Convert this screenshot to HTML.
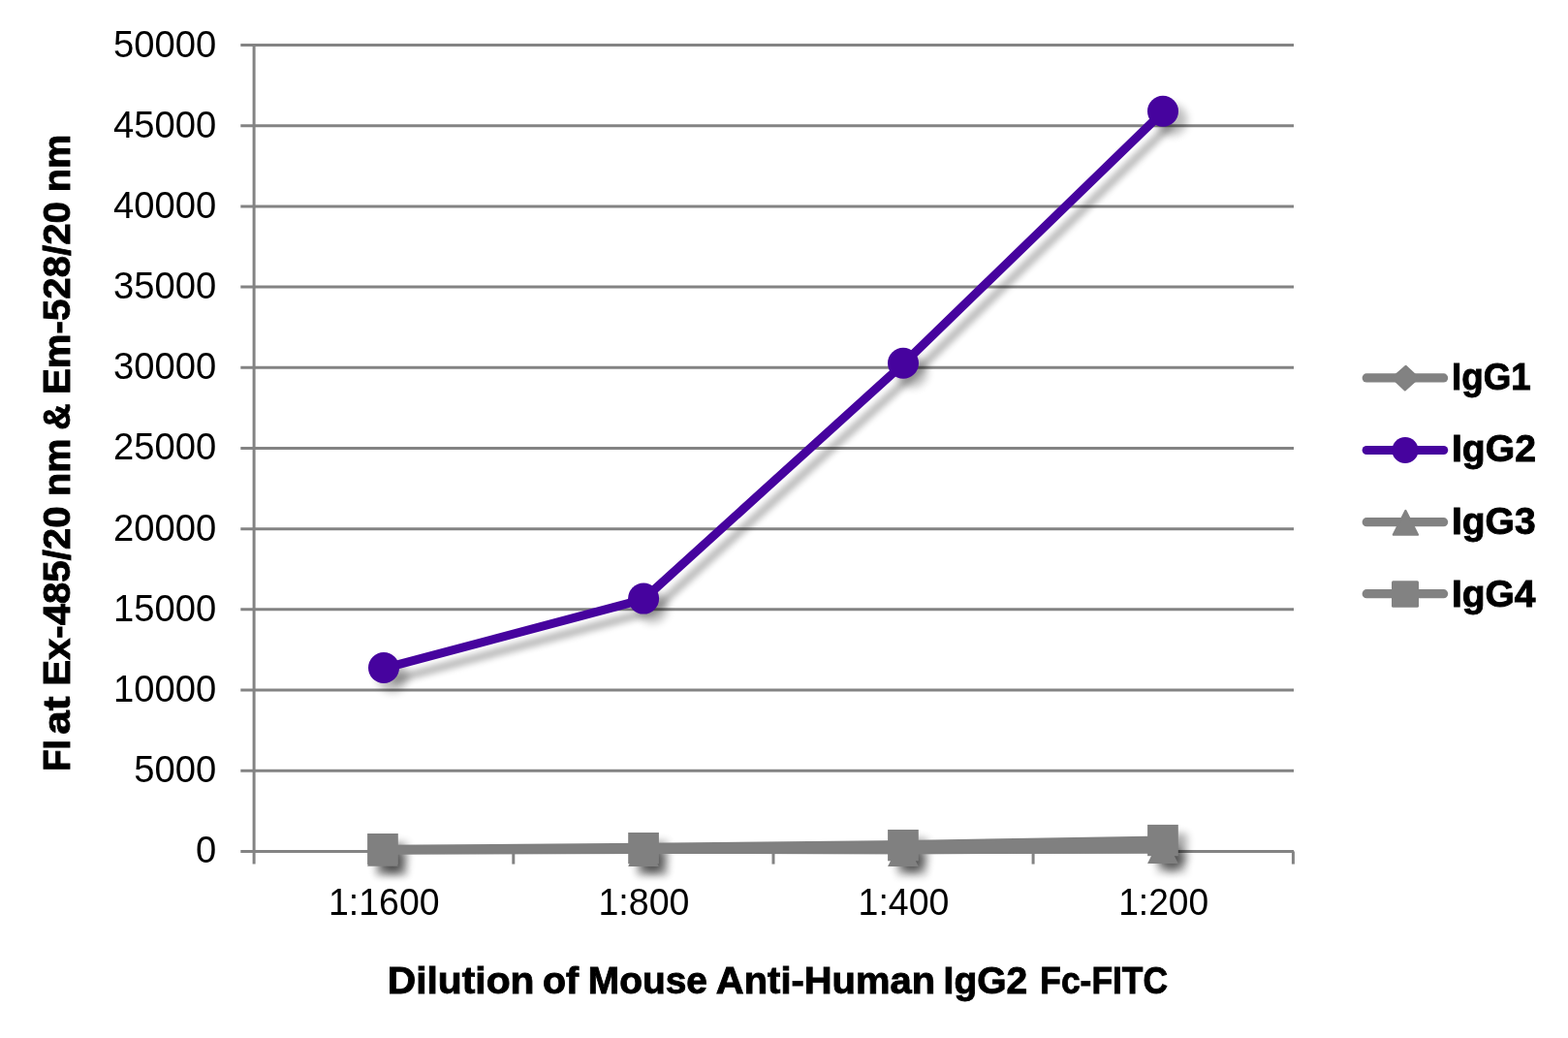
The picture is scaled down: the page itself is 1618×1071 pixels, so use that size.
<!DOCTYPE html>
<html lang="en"><head><meta charset="utf-8"><title>Dilution of Mouse Anti-Human IgG2 Fc-FITC</title>
<style>
html,body{margin:0;padding:0;background:#fff;}
body{width:1618px;height:1071px;overflow:hidden;}
svg{display:block;}
text{font-family:"Liberation Sans",sans-serif;fill:#000;}
.b{font-weight:bold;}
</style></head><body>
<svg width="1618" height="1071" viewBox="0 0 1618 1071">
<defs>
<filter id="sh" filterUnits="userSpaceOnUse" x="300" y="40" width="1000" height="900"><feGaussianBlur in="SourceAlpha" stdDeviation="4.3"/><feOffset dx="8.8" dy="8.8"/><feComponentTransfer><feFuncA type="linear" slope="0.33"/></feComponentTransfer></filter>
<filter id="shp" filterUnits="userSpaceOnUse" x="300" y="40" width="1000" height="800"><feGaussianBlur in="SourceAlpha" stdDeviation="4.3"/><feOffset dx="8.8" dy="8.8"/><feComponentTransfer><feFuncA type="linear" slope="0.26"/></feComponentTransfer></filter>
<filter id="shl" filterUnits="userSpaceOnUse" x="300" y="40" width="1000" height="800"><feGaussianBlur in="SourceAlpha" stdDeviation="3.2"/><feOffset dx="8.5" dy="11.5"/><feComponentTransfer><feFuncA type="linear" slope="0.26"/></feComponentTransfer></filter>
</defs>
<rect width="1618" height="1071" fill="#fff"/>
<g stroke="#838383" stroke-width="3" fill="none">
<line x1="248.3" y1="46.50" x2="1335" y2="46.50"/>
<line x1="248.3" y1="129.69" x2="1335" y2="129.69"/>
<line x1="248.3" y1="212.88" x2="1335" y2="212.88"/>
<line x1="248.3" y1="296.07" x2="1335" y2="296.07"/>
<line x1="248.3" y1="379.26" x2="1335" y2="379.26"/>
<line x1="248.3" y1="462.45" x2="1335" y2="462.45"/>
<line x1="248.3" y1="545.64" x2="1335" y2="545.64"/>
<line x1="248.3" y1="628.83" x2="1335" y2="628.83"/>
<line x1="248.3" y1="712.02" x2="1335" y2="712.02"/>
<line x1="248.3" y1="795.21" x2="1335" y2="795.21"/>
<line x1="248.3" y1="878.40" x2="1335" y2="878.40"/>
<line x1="262.10" y1="45" x2="262.10" y2="891.6"/>
<line x1="529.80" y1="878.40" x2="529.80" y2="891.6"/>
<line x1="798.00" y1="878.40" x2="798.00" y2="891.6"/>
<line x1="1066.10" y1="878.40" x2="1066.10" y2="891.6"/>
<line x1="1334.40" y1="878.40" x2="1334.40" y2="891.6"/>
</g>
<g font-size="38.2" text-anchor="end">
<text x="223.25" y="58.50">50000</text>
<text x="223.25" y="141.69">45000</text>
<text x="223.25" y="224.88">40000</text>
<text x="223.25" y="308.07">35000</text>
<text x="223.25" y="391.26">30000</text>
<text x="223.25" y="474.45">25000</text>
<text x="223.25" y="557.64">20000</text>
<text x="223.25" y="640.83">15000</text>
<text x="223.25" y="724.02">10000</text>
<text x="223.25" y="807.21">5000</text>
<text x="223.30" y="890.40">0</text>
</g>
<g font-size="38.2">
<text x="339.06" y="944.2" textLength="114.47" lengthAdjust="spacingAndGlyphs">1:1600</text>
<text x="617.45" y="944.2" textLength="93.99" lengthAdjust="spacingAndGlyphs">1:800</text>
<text x="885.55" y="944.2" textLength="93.88" lengthAdjust="spacingAndGlyphs">1:400</text>
<text x="1154.18" y="944.2" textLength="92.94" lengthAdjust="spacingAndGlyphs">1:200</text>
</g>
<text class="b" y="1025.3" font-size="38.6" stroke="#000" stroke-width="0.9"><tspan x="399.72" textLength="151.80" lengthAdjust="spacingAndGlyphs">Dilution</tspan> <tspan x="559.98" textLength="37.13" lengthAdjust="spacingAndGlyphs">of</tspan> <tspan x="606.83" textLength="123.11" lengthAdjust="spacingAndGlyphs">Mouse</tspan> <tspan x="738.88" textLength="226.23" lengthAdjust="spacingAndGlyphs">Anti-Human</tspan> <tspan x="973.63" textLength="86.69" lengthAdjust="spacingAndGlyphs">IgG2</tspan> <tspan x="1073.34" textLength="131.69" lengthAdjust="spacingAndGlyphs">Fc-FITC</tspan></text>
<text class="b" transform="translate(71.6 0) rotate(-90)" y="0" font-size="38.6" stroke="#000" stroke-width="0.9"><tspan x="-795.83" textLength="32.47" lengthAdjust="spacingAndGlyphs">FI</tspan> <tspan x="-757.76" textLength="39.23" lengthAdjust="spacingAndGlyphs">at</tspan> <tspan x="-707.84" textLength="185.32" lengthAdjust="spacingAndGlyphs">Ex-485/20</tspan> <tspan x="-512.06" textLength="59.48" lengthAdjust="spacingAndGlyphs">nm</tspan> <tspan x="-443.72" textLength="27.28" lengthAdjust="spacingAndGlyphs">&amp;</tspan> <tspan x="-407.04" textLength="198.93" lengthAdjust="spacingAndGlyphs">Em-528/20</tspan> <tspan x="-198.26" textLength="59.70" lengthAdjust="spacingAndGlyphs">nm</tspan></text>
<g fill="#000">
<g filter="url(#sh)"><path d="M396.00 860.90L412.00 876.90L396.00 892.90L380.00 876.90Z"/><path d="M664.10 860.30L680.10 876.30L664.10 892.30L648.10 876.30Z"/><path d="M932.00 860.45L948.00 876.45L932.00 892.45L916.00 876.45Z"/><path d="M1200.00 859.90L1216.00 875.90L1200.00 891.90L1184.00 875.90Z"/></g>
<polyline points="396.00,689.70 664.10,618.30 932.00,375.50 1200.00,115.50" fill="none" stroke="#000" stroke-width="9.0" stroke-linejoin="round" filter="url(#shl)"/>
<g filter="url(#shp)"><circle cx="396.00" cy="689.00" r="16"/><circle cx="664.10" cy="617.60" r="16"/><circle cx="932.00" cy="374.80" r="16"/><circle cx="1200.00" cy="114.80" r="16"/></g>
<g filter="url(#sh)"><path d="M394.95 861.70L410.80 893.70L379.10 893.70Z"/><path d="M664.05 862.10L679.90 894.10L648.20 894.10Z"/><path d="M931.95 861.90L947.80 893.90L916.10 893.90Z"/><path d="M1199.95 859.10L1215.80 891.10L1184.10 891.10Z"/></g>
<g filter="url(#sh)"><rect x="379.10" y="860.00" width="31.7" height="32.3"/><rect x="648.20" y="859.00" width="31.7" height="32.3"/><rect x="916.10" y="856.00" width="31.7" height="32.3"/><rect x="1184.10" y="850.90" width="31.7" height="32.3"/></g>
</g>
<polyline points="396.00,876.90 664.10,876.30 932.00,876.45 1200.00,875.90" fill="none" stroke="#808080" stroke-width="9.4" stroke-linejoin="round"/>
<g fill="#808080"><path d="M396.00 860.90L412.00 876.90L396.00 892.90L380.00 876.90Z"/><path d="M664.10 860.30L680.10 876.30L664.10 892.30L648.10 876.30Z"/><path d="M932.00 860.45L948.00 876.45L932.00 892.45L916.00 876.45Z"/><path d="M1200.00 859.90L1216.00 875.90L1200.00 891.90L1184.00 875.90Z"/></g>
<polyline points="396.00,689.70 664.10,618.30 932.00,375.50 1200.00,115.50" fill="none" stroke="#46039e" stroke-width="9.0" stroke-linejoin="round"/>
<g fill="#46039e"><circle cx="396.00" cy="689.00" r="16"/><circle cx="664.10" cy="617.60" r="16"/><circle cx="932.00" cy="374.80" r="16"/><circle cx="1200.00" cy="114.80" r="16"/></g>
<polyline points="396.00,876.90 664.10,876.30 932.00,876.45 1200.00,875.90" fill="none" stroke="#808080" stroke-width="9.4" stroke-linejoin="round"/>
<g fill="#808080"><path d="M394.95 861.70L410.80 893.70L379.10 893.70Z"/><path d="M664.05 862.10L679.90 894.10L648.20 894.10Z"/><path d="M931.95 861.90L947.80 893.90L916.10 893.90Z"/><path d="M1199.95 859.10L1215.80 891.10L1184.10 891.10Z"/></g>
<polyline points="396.00,876.50 664.10,874.40 932.00,871.70 1200.00,867.30" fill="none" stroke="#808080" stroke-width="9.4" stroke-linejoin="round"/>
<g fill="#808080"><rect x="379.10" y="860.00" width="31.7" height="32.3"/><rect x="648.20" y="859.00" width="31.7" height="32.3"/><rect x="916.10" y="856.00" width="31.7" height="32.3"/><rect x="1184.10" y="850.90" width="31.7" height="32.3"/></g>
<line x1="1410.2" y1="389.90" x2="1489.6" y2="389.90" stroke="#828282" stroke-width="9.2" stroke-linecap="round"/>
<path d="M1450.60 377.70L1463.80 390.10L1449.80 402.50L1436.60 390.10Z" fill="#828282" stroke="#828282" stroke-width="2" stroke-linejoin="round"/>
<text class="b" x="1498.06" y="402.10" font-size="38.6" textLength="81.72" lengthAdjust="spacingAndGlyphs" stroke="#000" stroke-width="0.9">IgG1</text>
<line x1="1410.2" y1="464.50" x2="1489.6" y2="464.50" stroke="#46039e" stroke-width="9.2" stroke-linecap="round"/>
<circle cx="1450.00" cy="464.50" r="13.6" fill="#46039e"/>
<text class="b" x="1497.92" y="476.30" font-size="38.6" textLength="87.00" lengthAdjust="spacingAndGlyphs" stroke="#000" stroke-width="0.9">IgG2</text>
<line x1="1410.2" y1="538.70" x2="1489.6" y2="538.70" stroke="#828282" stroke-width="9.2" stroke-linecap="round"/>
<path d="M1450.40 526.80L1463.10 551.80L1437.70 551.80Z" fill="#828282" stroke="#828282" stroke-width="2" stroke-linejoin="round"/>
<text class="b" x="1497.93" y="550.50" font-size="38.6" textLength="86.69" lengthAdjust="spacingAndGlyphs" stroke="#000" stroke-width="0.9">IgG3</text>
<line x1="1410.2" y1="612.70" x2="1489.6" y2="612.70" stroke="#828282" stroke-width="9.2" stroke-linecap="round"/>
<rect x="1436.00" y="599.30" width="28" height="27.5" rx="1.5" fill="#828282"/>
<text class="b" x="1497.93" y="625.60" font-size="38.6" textLength="86.62" lengthAdjust="spacingAndGlyphs" stroke="#000" stroke-width="0.9">IgG4</text>
</svg>
</body></html>
